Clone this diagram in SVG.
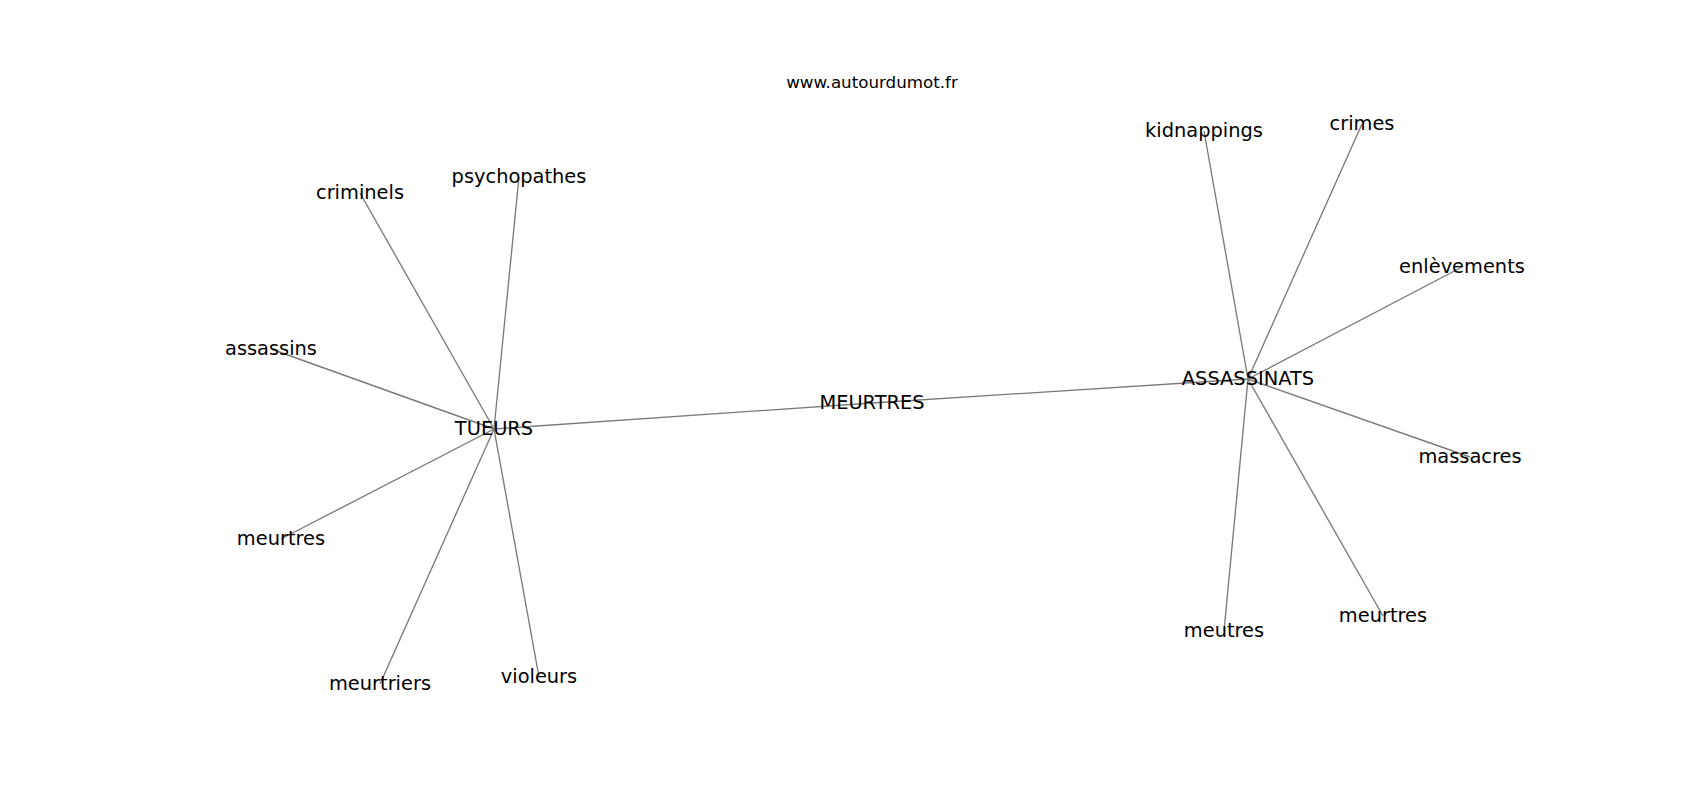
<svg xmlns="http://www.w3.org/2000/svg" width="1700" height="800" viewBox="0 0 1700 800">
<style>
  .edge { stroke: #7a7a7a; stroke-width: 1.35; fill: none; }
  .lbl { font-family: "DejaVu Sans", "Liberation Sans", sans-serif; font-size: 19.4px; fill: #000000; text-anchor: middle; }
  .title { font-family: "DejaVu Sans", "Liberation Sans", sans-serif; font-size: 16.7px; fill: #000000; text-anchor: middle; }
</style>
<rect x="0" y="0" width="1700" height="800" fill="#ffffff"/>
<text class="title" x="872" y="88">www.autourdumot.fr</text>
<g id="connectors">
  <line class="edge" x1="494" y1="429" x2="872" y2="403"/>
  <line class="edge" x1="872" y1="403" x2="1248" y2="379"/>
  <line class="edge" x1="494" y1="429" x2="360" y2="193"/>
  <line class="edge" x1="494" y1="429" x2="519" y2="177"/>
  <line class="edge" x1="494" y1="429" x2="271" y2="349"/>
  <line class="edge" x1="494" y1="429" x2="281" y2="539"/>
  <line class="edge" x1="494" y1="429" x2="380" y2="684"/>
  <line class="edge" x1="494" y1="429" x2="539" y2="677"/>
  <line class="edge" x1="1248" y1="379" x2="1204" y2="131"/>
  <line class="edge" x1="1248" y1="379" x2="1362" y2="124"/>
  <line class="edge" x1="1248" y1="379" x2="1462" y2="267"/>
  <line class="edge" x1="1248" y1="379" x2="1470" y2="457"/>
  <line class="edge" x1="1248" y1="379" x2="1383" y2="616"/>
  <line class="edge" x1="1248" y1="379" x2="1224" y2="631"/>
</g>
<g id="node-tueurs"><text class="lbl" x="494" y="435">TUEURS</text></g>
<g id="node-meurtres-center"><text class="lbl" x="872" y="408.5">MEURTRES</text></g>
<g id="node-assassinats"><text class="lbl" x="1248" y="385">ASSASSINATS</text></g>
<g id="node-criminels"><text class="lbl" x="360" y="199">criminels</text></g>
<g id="node-psychopathes"><text class="lbl" x="519" y="183">psychopathes</text></g>
<g id="node-assassins"><text class="lbl" x="271" y="355">assassins</text></g>
<g id="node-meurtres-left"><text class="lbl" x="281" y="545">meurtres</text></g>
<g id="node-meurtriers"><text class="lbl" x="380" y="690">meurtriers</text></g>
<g id="node-violeurs"><text class="lbl" x="539" y="683">violeurs</text></g>
<g id="node-kidnappings"><text class="lbl" x="1204" y="137">kidnappings</text></g>
<g id="node-crimes"><text class="lbl" x="1362" y="130">crimes</text></g>
<g id="node-enlevements"><text class="lbl" x="1462" y="273">enlèvements</text></g>
<g id="node-massacres"><text class="lbl" x="1470" y="463">massacres</text></g>
<g id="node-meurtres-right"><text class="lbl" x="1383" y="622">meurtres</text></g>
<g id="node-meutres"><text class="lbl" x="1224" y="637">meutres</text></g>
</svg>
